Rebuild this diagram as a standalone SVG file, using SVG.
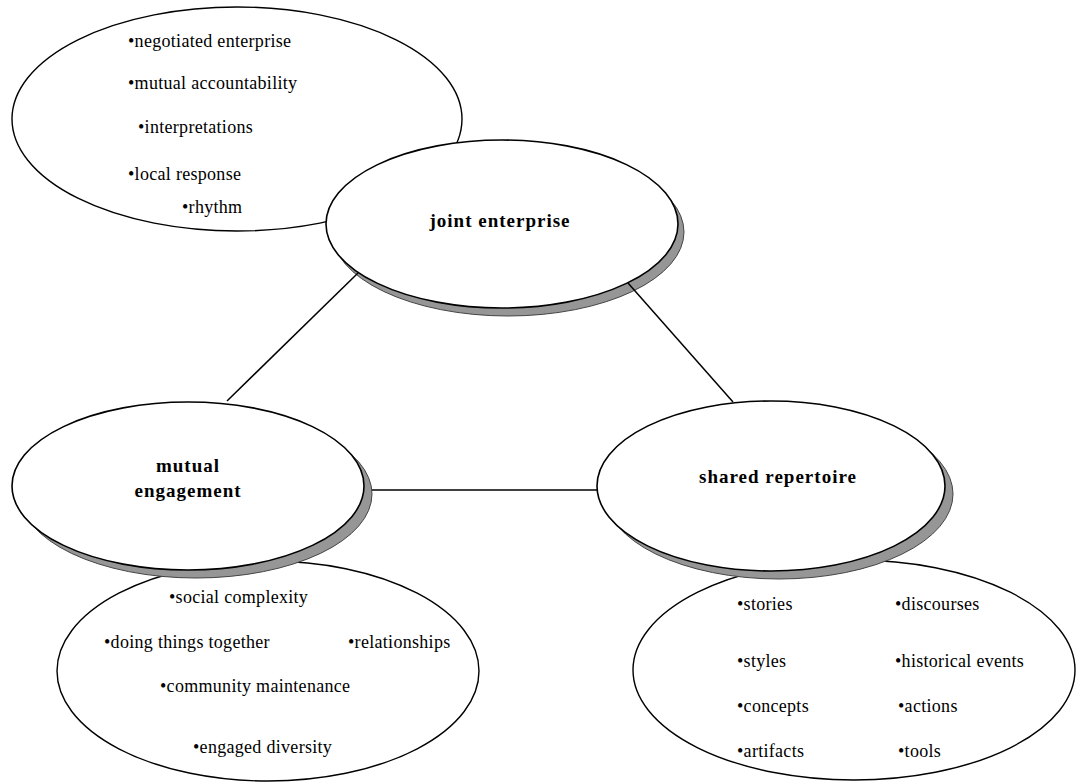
<svg xmlns="http://www.w3.org/2000/svg" width="1078" height="782" viewBox="0 0 1078 782">
<style>
.bub{fill:#fff;stroke:#000;stroke-width:1.4}
.main{fill:#fff;stroke:#000;stroke-width:1.6}
.shadow{fill:#969696;stroke:#444;stroke-width:1}
.title{font-family:"Liberation Serif",serif;font-weight:bold;font-size:19px;letter-spacing:1px;fill:#000}
.item{font-family:"Liberation Serif",serif;font-size:18px;letter-spacing:0.3px;fill:#000}
.conn{stroke:#000;stroke-width:1.5;fill:none}
</style>
<rect width="1078" height="782" fill="#fff"/>
<g id="je-details">
<ellipse class="bub" cx="237" cy="119" rx="225" ry="112"/>
<text class="item" x="128" y="47">•negotiated enterprise</text>
<text class="item" x="128" y="89">•mutual accountability</text>
<text class="item" x="138" y="133">•interpretations</text>
<text class="item" x="128" y="180">•local response</text>
<text class="item" x="182" y="213">•rhythm</text>
</g>
<g id="me-details">
<ellipse class="bub" cx="268" cy="671" rx="211" ry="110"/>
<text class="item" x="169" y="603">•social complexity</text>
<text class="item" x="104" y="648">•doing things together</text>
<text class="item" x="348" y="648">•relationships</text>
<text class="item" x="160" y="692">•community maintenance</text>
<text class="item" x="193" y="753">•engaged diversity</text>
</g>
<g id="sr-details">
<ellipse class="bub" cx="854" cy="670" rx="221" ry="110"/>
<text class="item" x="737" y="610">•stories</text>
<text class="item" x="895" y="610">•discourses</text>
<text class="item" x="737" y="667">•styles</text>
<text class="item" x="895" y="667">•historical events</text>
<text class="item" x="737" y="712">•concepts</text>
<text class="item" x="898" y="712">•actions</text>
<text class="item" x="737" y="757">•artifacts</text>
<text class="item" x="898" y="757">•tools</text>
</g>
<g id="joint-enterprise">
<ellipse class="shadow" cx="508" cy="232" rx="176" ry="84"/>
<ellipse class="main" cx="502" cy="224" rx="176" ry="84"/>
<text class="title" x="500" y="227" text-anchor="middle">joint enterprise</text>
</g>
<g id="mutual-engagement">
<ellipse class="shadow" cx="196" cy="494" rx="176" ry="84"/>
<ellipse class="main" cx="188" cy="486" rx="176" ry="84"/>
<text class="title" x="188" y="472" text-anchor="middle">mutual</text>
<text class="title" x="188" y="497" text-anchor="middle">engagement</text>
</g>
<g id="shared-repertoire">
<ellipse class="shadow" cx="779" cy="494" rx="174" ry="85"/>
<ellipse class="main" cx="771" cy="486" rx="174" ry="85"/>
<text class="title" x="778" y="483" text-anchor="middle">shared repertoire</text>
</g>
<g id="connectors">
<line class="conn" x1="358" y1="273" x2="227" y2="401"/>
<line class="conn" x1="628" y1="283" x2="733" y2="402"/>
<line class="conn" x1="372" y1="490" x2="597" y2="490"/>
</g>
</svg>
